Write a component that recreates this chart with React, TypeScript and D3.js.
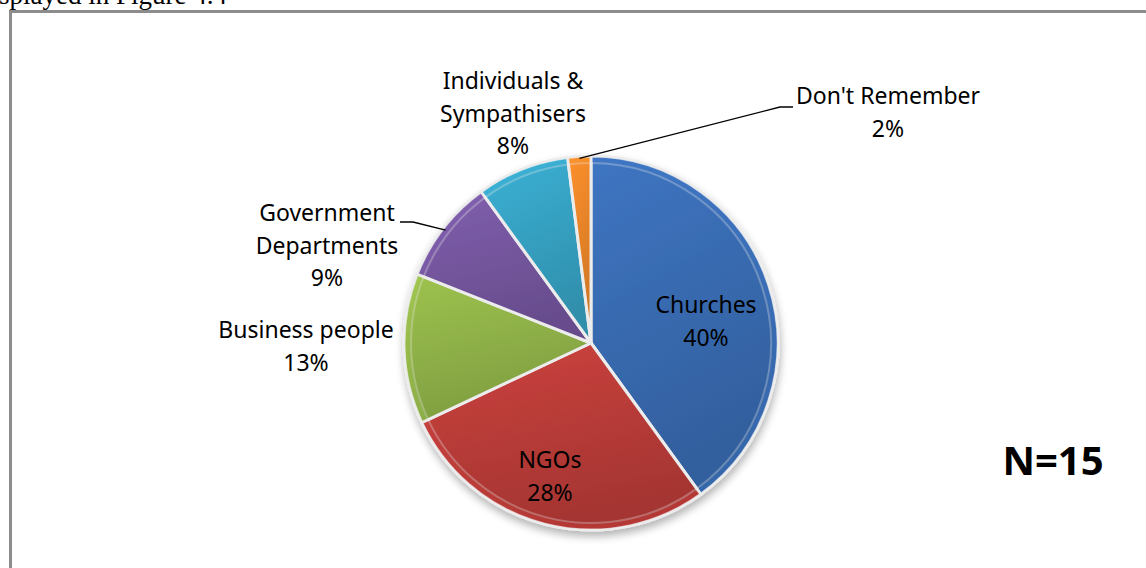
import * as d3 from "d3";
import React from "react";

const categories = [
  "Churches",
  "NGOs",
  "Business people",
  "Government Departments",
  "Individuals & Sympathisers",
  "Don't Remember",
];
const shares = [40, 28, 13, 9, 8, 2];
const colours = ["#3a6db5", "#be3d3a", "#93b64a", "#7758a2", "#37a5c6", "#f0882a"];
// label lines as they wrap in the original
const labelLines = [
  ["Churches"],
  ["NGOs"],
  ["Business people"],
  ["Government", "Departments"],
  ["Individuals &", "Sympathisers"],
  ["Don't Remember"],
];
const sampleNote = "N=15";

const W = 1146;
const H = 568;
const cx = 591;
const cy = 343;
const R = 187;

// where each label block sits (centre x, first line y) in chart coords
const labelPos: [number, number][] = [
  [706, 307],
  [550, 462],
  [306, 332],
  [327, 215],
  [513, 83],
  [888, 98],
];

const App: React.FC = () => {
  const pie = d3
    .pie<number>()
    .sort(null)
    .value((d) => d);
  const arcs = pie(shares);
  const arc = d3.arc<d3.PieArcDatum<number>>().innerRadius(0).outerRadius(R);
  const rimArc = d3
    .arc<d3.PieArcDatum<number>>()
    .innerRadius(R - 7)
    .outerRadius(R);

  const lighter = (c: string, k: number) => d3.color(c)!.brighter(k).formatHex();
  const darker = (c: string, k: number) => d3.color(c)!.darker(k).formatHex();

  // leader lines for the two slices with labels set apart
  const edge = (i: number, r: number) => {
    const a = (arcs[i].startAngle + arcs[i].endAngle) / 2;
    return [cx + Math.sin(a) * r, cy - Math.cos(a) * r] as [number, number];
  };
  const line = d3.line();
  const govLine = line([edge(3, R - 3), [413, 222], [400, 222]]);
  const drLine = line([edge(5, R - 2), [780, 107], [793, 107]]);

  const font = "'Noto Sans', 'Open Sans', sans-serif";

  return (
    <svg
      width={W}
      height={H}
      style={{ position: "absolute", left: 0, top: 0, display: "block", background: "#fff" }}
    >
      <defs>
        {colours.map((c, i) => (
          <linearGradient key={i} id={`g${i}`} x1="0" y1="0" x2="0.3" y2="1">
            <stop offset="0%" stopColor={lighter(c, 0.2)} />
            <stop offset="100%" stopColor={darker(c, 0.4)} />
          </linearGradient>
        ))}
        <filter id="shadow" x="-20%" y="-20%" width="140%" height="140%">
          <feGaussianBlur in="SourceAlpha" stdDeviation="4" />
          <feOffset dx="1" dy="5" result="b" />
          <feComponentTransfer>
            <feFuncA type="linear" slope="0.3" />
          </feComponentTransfer>
          <feMerge>
            <feMergeNode />
            <feMergeNode in="SourceGraphic" />
          </feMerge>
        </filter>
      </defs>

      <text
        x={227}
        y={3.5}
        textAnchor="end"
        fontFamily="'Liberation Serif', 'Times New Roman', serif"
        fontSize={27}
        fill="#000"
      >
        displayed in Figure 4.4
      </text>

      <path d="M10.5,568 V11.5 H1146" fill="none" stroke="#8c8c8c" strokeWidth={3} />

      <g transform={`translate(${cx},${cy})`} filter="url(#shadow)">
        {arcs.map((a, i) => (
          <path
            key={categories[i]}
            d={arc(a) || ""}
            fill={`url(#g${i})`}
            stroke="#ececec"
            strokeWidth={3}
            strokeLinejoin="round"
          />
        ))}
        {arcs.map((a, i) => (
          <path
            key={`rim-${i}`}
            d={rimArc(a) || ""}
            fill={lighter(colours[i], 0.35)}
            opacity={0.3}
            stroke="#ececec"
            strokeWidth={2}
          />
        ))}
      </g>

      <path d={govLine || ""} fill="none" stroke="#000" strokeWidth={1.3} />
      <path d={drLine || ""} fill="none" stroke="#000" strokeWidth={1.3} />

      <g fontFamily={font} fontSize={23} fill="#000" textAnchor="middle">
        {labelLines.map((lines, i) => {
          const [lx, ly] = labelPos[i];
          const all = [...lines, `${shares[i]}%`];
          return (
            <text key={categories[i]} x={lx} y={ly} dominantBaseline="middle">
              {all.map((t, j) => (
                <tspan key={j} x={lx} dy={j === 0 ? 0 : 32.5}>
                  {t}
                </tspan>
              ))}
            </text>
          );
        })}
      </g>

      <text
        x={1053}
        y={464}
        textAnchor="middle"
        dominantBaseline="middle"
        fontFamily={font}
        fontWeight="bold"
        fontSize={40}
        fill="#000"
      >
        {sampleNote}
      </text>
    </svg>
  );
};

export default App;
